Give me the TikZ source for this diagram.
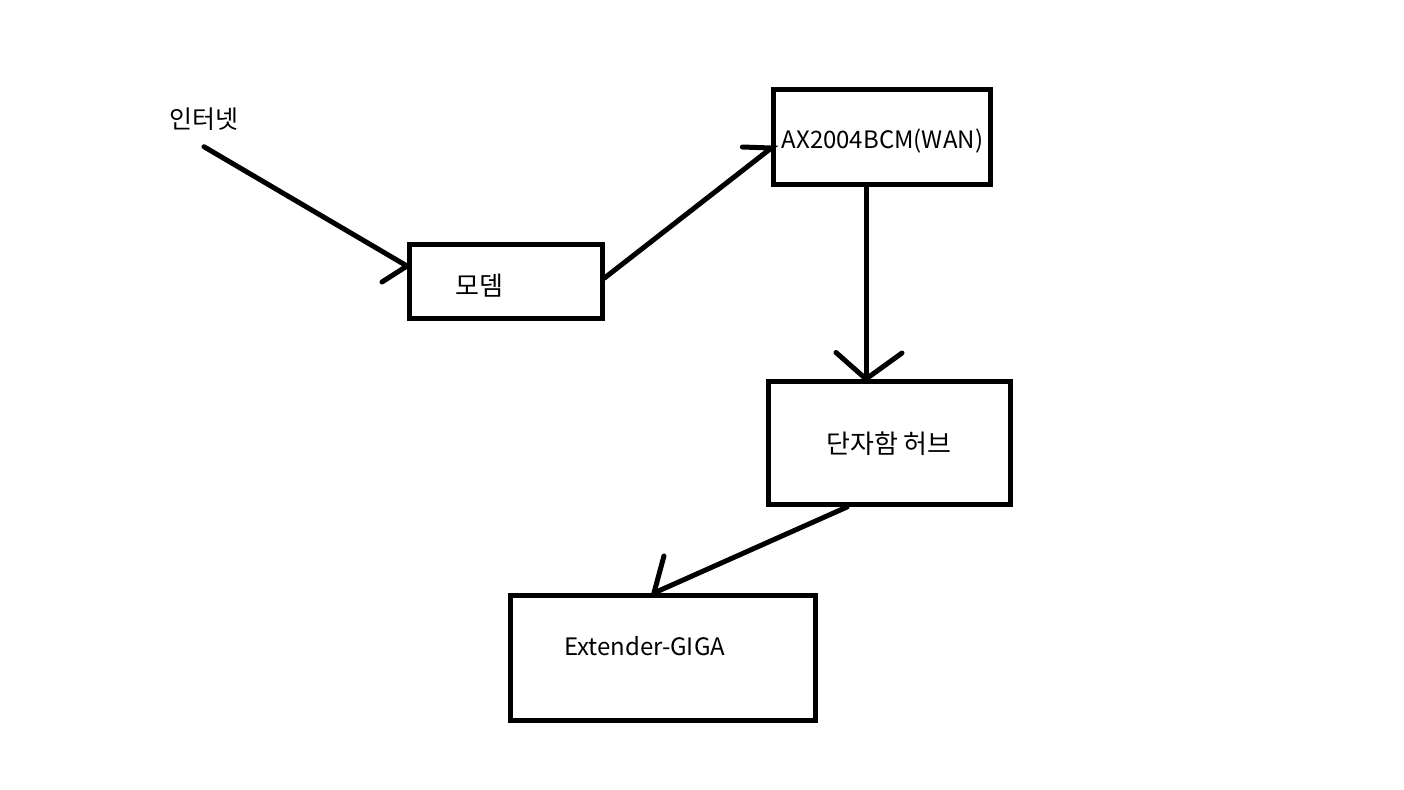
\documentclass[tikz,border=0pt]{standalone}
\usepackage{fontspec}
\setmainfont{Noto Sans CJK KR}
\usetikzlibrary{positioning}

\begin{document}
\begin{tikzpicture}[
    x=0.5pt, y=-0.5pt,
    box/.style={rectangle, draw, line width=2.5pt, inner sep=0pt, align=left, font=\fontsize{12}{14}\selectfont},
    hangul/.style={font=\fontsize{13}{15}\selectfont},
    wire/.style={line width=2.5pt, line cap=round},
    tag/.style={inner sep=0pt, font=\fontsize{12.5}{15}\selectfont}
]
    \useasboundingbox (0,0) rectangle (1404,789);

    % Devices
    \node[tag] (inet) at (204,119) {인터넷};
    \node[box, hangul, minimum width=96.25pt, minimum height=37pt, inner xsep=23pt, text width=50.25pt, text height=15pt] (modem) at (505.75,281) {모뎀};
    \node[box, minimum width=108.5pt, minimum height=47.5pt, align=center, text height=14pt] (router) at (882.35,136.5) {AX2004BCM(WAN)};
    \node[box, hangul, minimum width=121pt, minimum height=61.5pt, align=center, text height=12pt] (hub) at (889,443) {단자함 허브};
    \node[box, minimum width=152.25pt, minimum height=62.5pt, inner xsep=26.75pt, text width=98.75pt, text depth=12pt] (extender) at (662.75,658) {Extender-GIGA};

    % Arrow tips
    \coordinate (hubtip) at ([xshift=-11.5pt]hub.north);
    \coordinate (exttip) at ([xshift=-4.4pt]extender.north);

    % Connectors (hand drawn, one or two barbs)
    \draw[wire] ([yshift=-8pt]inet.south) -- ([yshift=7.5pt]modem.west) coordinate (modemtip) -- ++(-25,16);
    \draw[wire] ([yshift=1.5pt]modem.east) -- ([yshift=-5.75pt]router.west) coordinate (routertip) -- ++(-29,-1);
    \draw[wire] (router.south -| hubtip) -- (hubtip);
    \draw[wire] (hubtip) -- ++(-30,-26.5);
    \draw[wire] (hubtip) -- ++(36,-26);
    \draw[wire] ([xshift=-21pt]hub.south) -- (exttip) -- ++(10,-37);

\end{tikzpicture}
\end{document}
